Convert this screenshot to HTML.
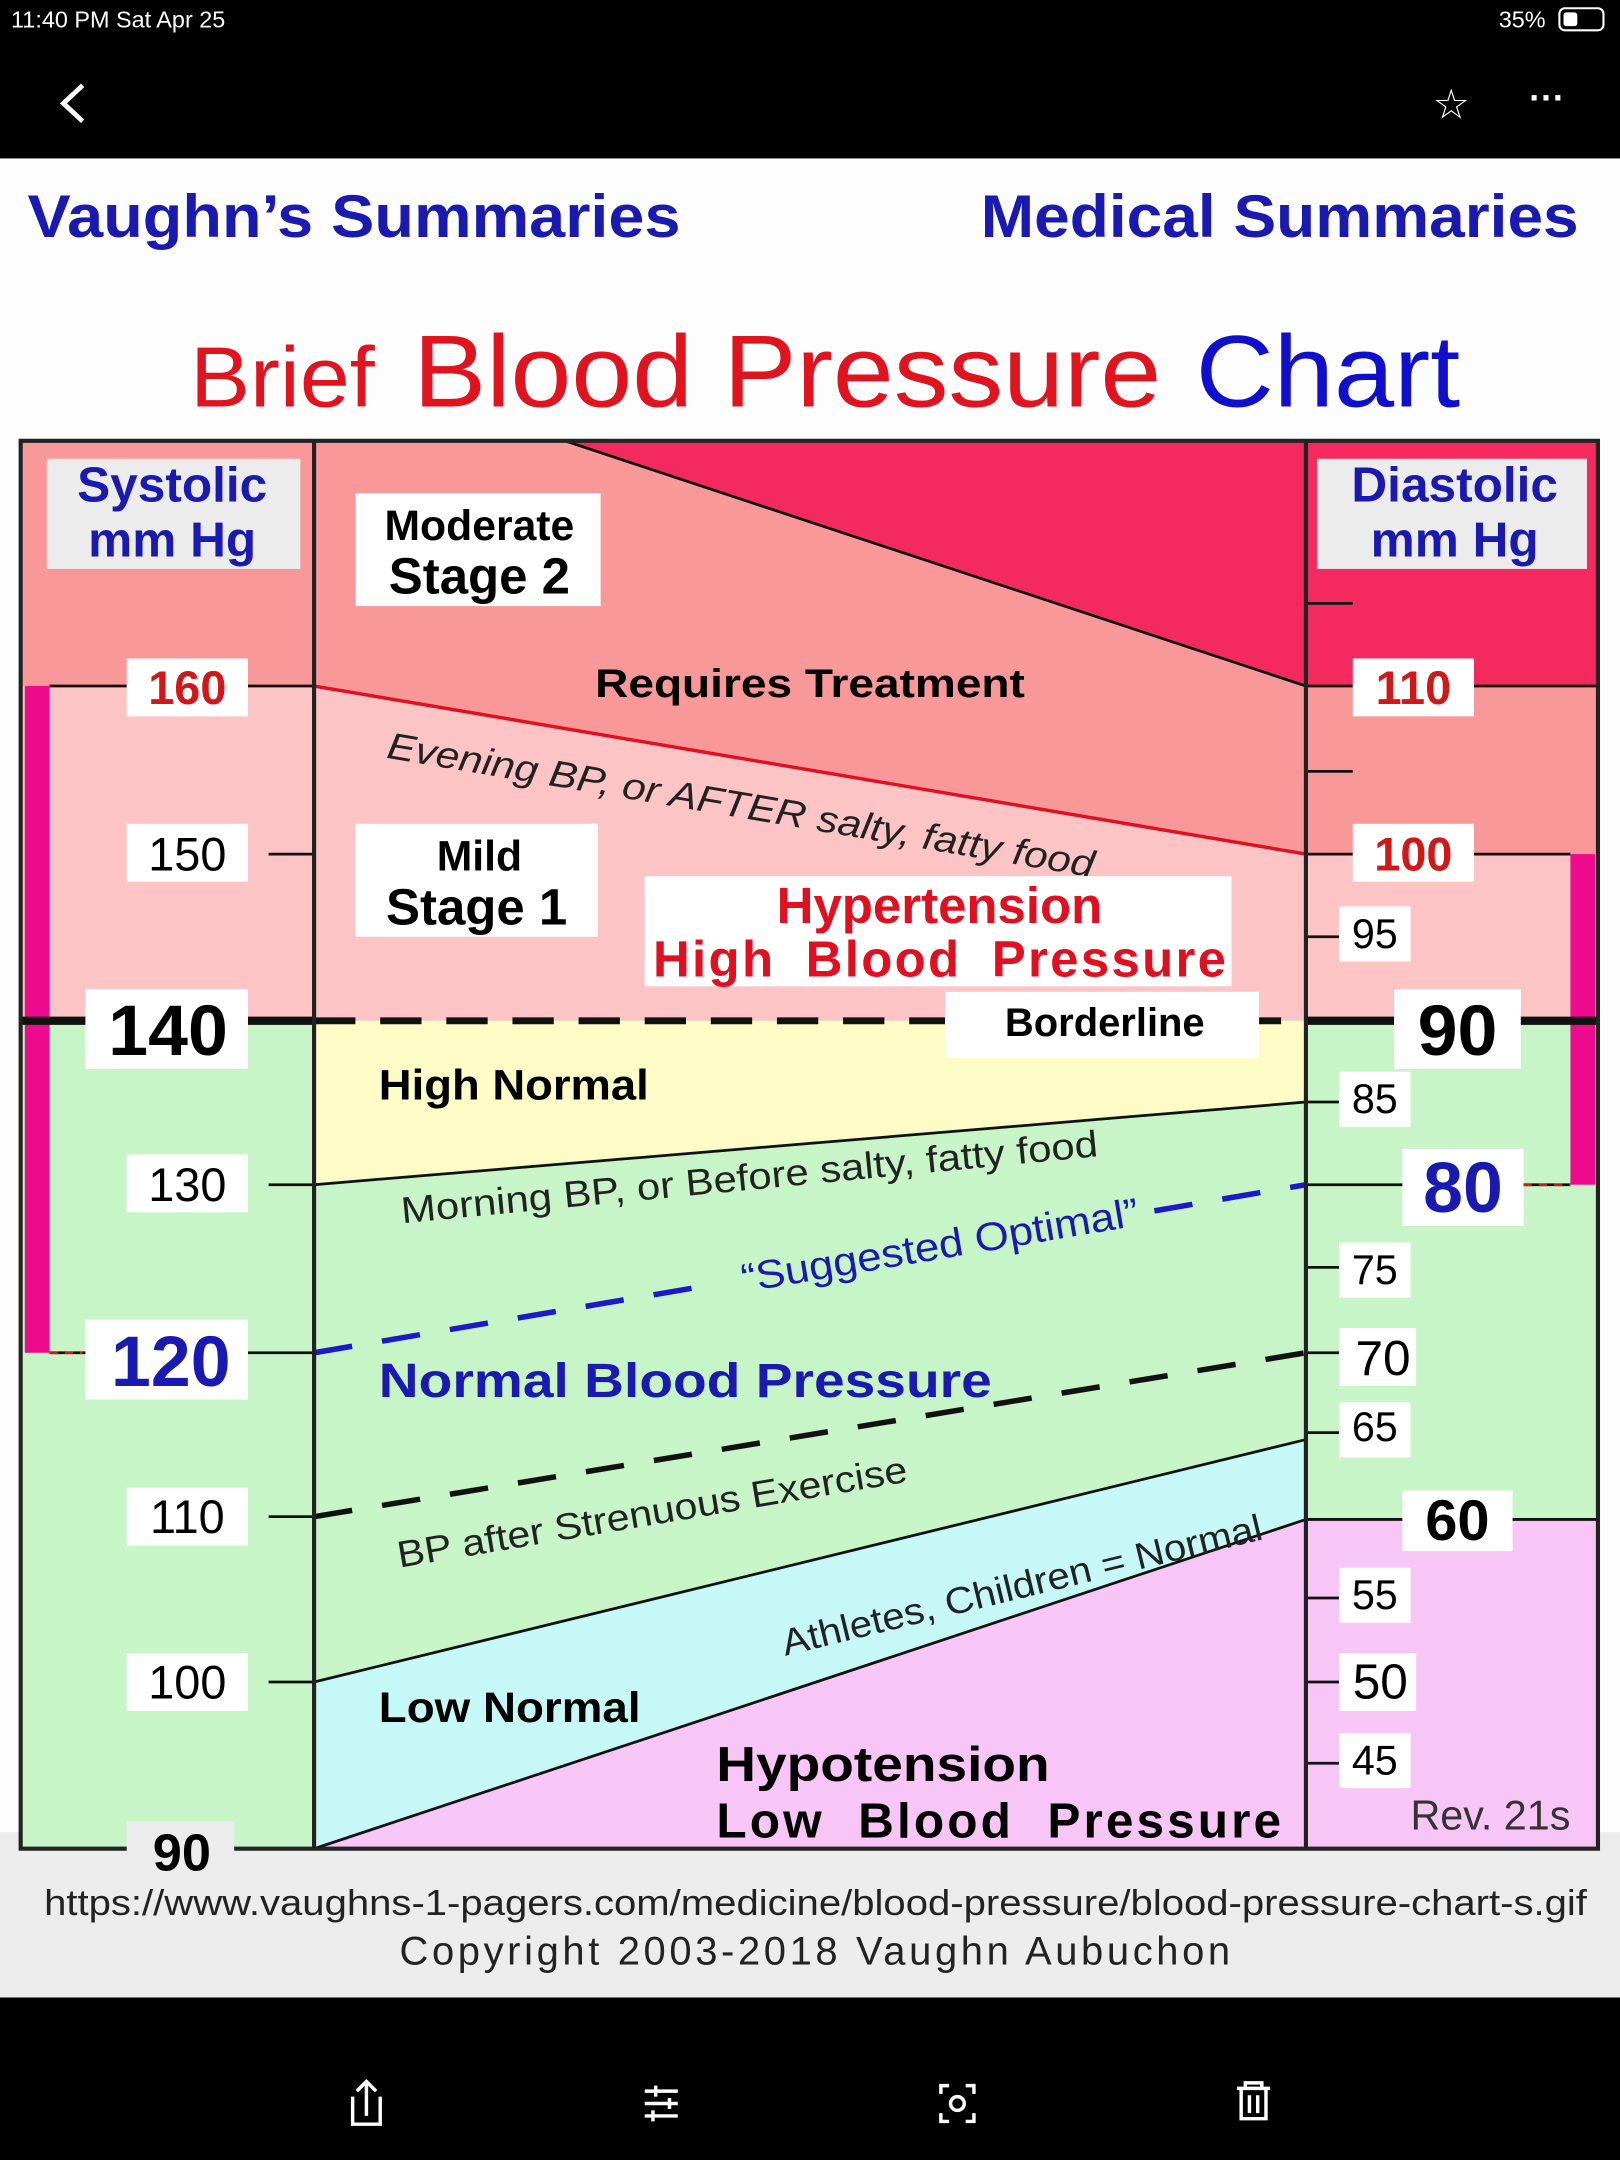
<!DOCTYPE html>
<html><head><meta charset="utf-8"><style>html,body{margin:0;padding:0;background:#000;}svg{display:block}</style></head>
<body>
<svg width="1620" height="2160" viewBox="0 0 1176 1568" xmlns="http://www.w3.org/2000/svg" font-family="Liberation Sans, Arial, sans-serif">
<rect x="0" y="0" width="1176" height="1568" fill="#000"/>
<text x="8" y="20" fill="#fff" font-size="17">11:40 PM   Sat Apr 25</text>
<text x="1088" y="20" fill="#fff" font-size="17">35%</text>
<rect x="1132" y="6" width="32" height="16" rx="4" fill="none" stroke="#fff" stroke-width="1.5"/>
<rect x="1135" y="9" width="10" height="10" rx="2" fill="#fff"/>
<path d="M60 62 L46 75 L60 88" stroke="#fff" stroke-width="3.5" fill="none"/>
<text x="1040" y="86" fill="#fff" font-size="30">☆</text>
<text x="1110" y="80" fill="#fff" font-size="26" font-weight="bold">···</text>
<rect x="0" y="115" width="1176" height="1335" fill="#fdfdfd"/>
<rect x="0" y="1330" width="1176" height="120" fill="#ececec"/>
<text x="20" y="172" fill="#1a1ab0" font-size="44" font-weight="bold" textLength="474" lengthAdjust="spacingAndGlyphs">Vaughn’s Summaries</text>
<text x="712" y="172" fill="#1a1ab0" font-size="44" font-weight="bold" textLength="434" lengthAdjust="spacingAndGlyphs">Medical Summaries</text>
<text x="138" y="295" font-size="62" fill="#e0141e" textLength="134" lengthAdjust="spacingAndGlyphs">Brief</text>
<text x="300" y="295" font-size="74" fill="#e0141e" textLength="543" lengthAdjust="spacingAndGlyphs">Blood Pressure</text>
<text x="868" y="295" font-size="74" fill="#1010cc" textLength="192" lengthAdjust="spacingAndGlyphs">Chart</text>
<!-- middle regions -->
<rect x="228" y="320" width="720" height="1022" fill="#c8f5c8"/>
<polygon points="228,320 948,320 948,620 228,498" fill="#f89898"/>
<polygon points="410,320 948,320 948,498" fill="#f42a5e"/>
<polygon points="228,498 948,620 948,741 228,741" fill="#fcc4c4"/>
<polygon points="228,741 948,741 948,800 228,860" fill="#fdfbc6"/>
<polygon points="228,1221 948,1045 948,1103 228,1342" fill="#c6f8f8"/>
<polygon points="228,1342 948,1103 948,1342" fill="#f8c6f6"/>
<line x1="410" y1="320" x2="948" y2="498" stroke="#111" stroke-width="2"/>
<line x1="228" y1="498" x2="948" y2="620" stroke="#e01020" stroke-width="2.5"/>
<line x1="228" y1="860" x2="948" y2="800" stroke="#111" stroke-width="2"/>
<line x1="228" y1="1221" x2="948" y2="1045" stroke="#111" stroke-width="2"/>
<line x1="228" y1="1342" x2="948" y2="1103" stroke="#111" stroke-width="2"/>
<!-- left column -->
<rect x="15" y="320" width="213" height="178" fill="#f89898"/>
<rect x="15" y="498" width="213" height="243" fill="#fcc4c4"/>
<rect x="15" y="741" width="213" height="601" fill="#c8f5c8"/>
<!-- right column -->
<rect x="948" y="320" width="212" height="178" fill="#f42a5e"/>
<rect x="948" y="498" width="212" height="122" fill="#f89898"/>
<rect x="948" y="620" width="212" height="121" fill="#fcc4c4"/>
<rect x="948" y="741" width="212" height="362" fill="#c8f5c8"/>
<rect x="948" y="1103" width="212" height="239" fill="#f8c6f6"/>
<rect x="18" y="498" width="18" height="484" fill="#ee0a8c"/>
<rect x="1140" y="620" width="18" height="240" fill="#ee0a8c"/>
<!-- dashed lines -->
<line x1="228" y1="741" x2="948" y2="741" stroke="#111" stroke-width="5" stroke-dasharray="30,18"/>
<line x1="15" y1="741" x2="228" y2="741" stroke="#111" stroke-width="6"/>
<line x1="948" y1="741" x2="1160" y2="741" stroke="#111" stroke-width="6"/>
<line x1="228" y1="982" x2="515" y2="933" stroke="#1a1acc" stroke-width="4" stroke-dasharray="28,22"/>
<line x1="838" y1="879" x2="948" y2="860" stroke="#1a1acc" stroke-width="4" stroke-dasharray="28,22"/>
<line x1="228" y1="1101" x2="948" y2="982" stroke="#111" stroke-width="4" stroke-dasharray="28,22"/>
<g stroke="#111" stroke-width="2">
<line x1="36" y1="498" x2="228" y2="498"/><line x1="195" y1="620" x2="228" y2="620"/>
<line x1="195" y1="860" x2="228" y2="860"/><line x1="36" y1="982" x2="228" y2="982"/>
<line x1="195" y1="1101" x2="228" y2="1101"/><line x1="195" y1="1221" x2="228" y2="1221"/>
<line x1="948" y1="438" x2="982" y2="438"/><line x1="948" y1="498" x2="1160" y2="498"/>
<line x1="948" y1="560" x2="982" y2="560"/><line x1="948" y1="620" x2="1140" y2="620"/>
<line x1="948" y1="680" x2="972" y2="680"/><line x1="948" y1="800" x2="972" y2="800"/>
<line x1="948" y1="860" x2="1140" y2="860"/><line x1="948" y1="920" x2="972" y2="920"/>
<line x1="948" y1="982" x2="972" y2="982"/><line x1="948" y1="1040" x2="972" y2="1040"/>
<line x1="948" y1="1103" x2="1160" y2="1103"/><line x1="948" y1="1160" x2="972" y2="1160"/>
<line x1="948" y1="1221" x2="972" y2="1221"/><line x1="948" y1="1280" x2="972" y2="1280"/>
</g>
<rect x="15" y="320" width="1145" height="1022" fill="none" stroke="#222" stroke-width="3"/>
<line x1="228" y1="320" x2="228" y2="1342" stroke="#222" stroke-width="3"/>
<line x1="948" y1="320" x2="948" y2="1342" stroke="#222" stroke-width="3"/>
<rect x="34" y="333" width="184" height="80" fill="#ececec"/>
<text x="125" y="364" font-size="36" font-weight="bold" fill="#1a1ab0" text-anchor="middle">Systolic</text>
<text x="125" y="404" font-size="36" font-weight="bold" fill="#1a1ab0" text-anchor="middle">mm Hg</text>
<rect x="956" y="333" width="196" height="80" fill="#ececec"/>
<text x="1056" y="364" font-size="36" font-weight="bold" fill="#1a1ab0" text-anchor="middle">Diastolic</text>
<text x="1056" y="404" font-size="36" font-weight="bold" fill="#1a1ab0" text-anchor="middle">mm Hg</text>
<g font-size="34" text-anchor="middle">
<rect x="92" y="478" width="88" height="42" fill="#fff"/><text x="136" y="511" fill="#d01818" font-weight="bold">160</text>
<rect x="92" y="598" width="88" height="42" fill="#fff"/><text x="136" y="632">150</text>
<rect x="62" y="718" width="118" height="58" fill="#fff"/><text x="122" y="766" font-size="52" font-weight="bold">140</text>
<rect x="92" y="838" width="88" height="42" fill="#fff"/><text x="136" y="872">130</text>
<rect x="62" y="958" width="118" height="58" fill="#fff"/><text x="124" y="1006" font-size="52" font-weight="bold" fill="#1a1ab0">120</text>
<rect x="92" y="1080" width="88" height="42" fill="#fff"/><text x="136" y="1113">110</text>
<rect x="92" y="1200" width="88" height="42" fill="#fff"/><text x="136" y="1233">100</text>
<rect x="92" y="1322" width="78" height="28" fill="#ececec"/><text x="132" y="1358" font-size="38" font-weight="bold">90</text>
<rect x="982" y="478" width="88" height="42" fill="#fff"/><text x="1026" y="511" fill="#d01818" font-weight="bold">110</text>
<rect x="982" y="598" width="88" height="42" fill="#fff"/><text x="1026" y="632" fill="#d01818" font-weight="bold">100</text>
<rect x="972" y="658" width="52" height="40" fill="#fff"/><text x="998" y="688" font-size="30">95</text>
<rect x="1012" y="718" width="92" height="58" fill="#fff"/><text x="1058" y="766" font-size="52" font-weight="bold">90</text>
<rect x="972" y="778" width="52" height="40" fill="#fff"/><text x="998" y="808" font-size="30">85</text>
<rect x="1018" y="834" width="88" height="56" fill="#fff"/><text x="1062" y="880" font-size="52" font-weight="bold" fill="#1a1ab0">80</text>
<rect x="972" y="902" width="52" height="40" fill="#fff"/><text x="998" y="932" font-size="30">75</text>
<rect x="972" y="964" width="56" height="42" fill="#fff"/><text x="1004" y="998" font-size="36">70</text>
<rect x="972" y="1018" width="52" height="40" fill="#fff"/><text x="998" y="1046" font-size="30">65</text>
<rect x="1018" y="1082" width="80" height="44" fill="#fff"/><text x="1058" y="1118" font-size="42" font-weight="bold">60</text>
<rect x="972" y="1138" width="52" height="40" fill="#fff"/><text x="998" y="1168" font-size="30">55</text>
<rect x="972" y="1200" width="56" height="42" fill="#fff"/><text x="1002" y="1233" font-size="36">50</text>
<rect x="972" y="1258" width="52" height="40" fill="#fff"/><text x="998" y="1288" font-size="30">45</text>
</g>
<line x1="36" y1="982" x2="60" y2="982" stroke="#d01818" stroke-width="2" stroke-dasharray="6,5"/>
<line x1="1106" y1="860" x2="1140" y2="860" stroke="#d01818" stroke-width="2" stroke-dasharray="6,5"/>
<text x="1140" y="1328" font-size="30" text-anchor="end" fill="#333">Rev. 21s</text>
<rect x="258" y="358" width="178" height="82" fill="#fff"/>
<text x="348" y="392" font-size="31" font-weight="bold" text-anchor="middle">Moderate</text>
<text x="348" y="431" font-size="37" font-weight="bold" text-anchor="middle">Stage 2</text>
<text x="432" y="506" font-size="29" font-weight="bold" textLength="312" lengthAdjust="spacingAndGlyphs">Requires Treatment</text>
<text transform="translate(280,550) rotate(9.6)" font-size="27" font-style="italic" fill="#222" textLength="520" lengthAdjust="spacingAndGlyphs">Evening BP, or AFTER salty, fatty food</text>
<rect x="258" y="598" width="176" height="82" fill="#fff"/>
<text x="348" y="632" font-size="31" font-weight="bold" text-anchor="middle">Mild</text>
<text x="346" y="671" font-size="37" font-weight="bold" text-anchor="middle">Stage 1</text>
<rect x="468" y="636" width="426" height="80" fill="#fff"/>
<text x="682" y="670" font-size="37" font-weight="bold" fill="#e01020" text-anchor="middle">Hypertension</text>
<text x="474" y="709" font-size="37" font-weight="bold" fill="#e01020" textLength="416" lengthAdjust="spacing" word-spacing="10">High Blood Pressure</text>
<rect x="686" y="720" width="228" height="48" fill="#fff"/>
<text x="802" y="752" font-size="29" font-weight="bold" text-anchor="middle">Borderline</text>
<text x="275" y="798" font-size="31" font-weight="bold" textLength="196" lengthAdjust="spacingAndGlyphs">High Normal</text>
<text transform="translate(292,888) rotate(-5.5)" font-size="27" fill="#222" textLength="508" lengthAdjust="spacingAndGlyphs">Morning BP, or Before salty, fatty food</text>
<text transform="translate(540,938) rotate(-9.6)" font-size="29" fill="#1a1ab0" textLength="292" lengthAdjust="spacingAndGlyphs">“Suggested Optimal”</text>
<text x="275" y="1014" font-size="35" font-weight="bold" fill="#1a1ab0" textLength="445" lengthAdjust="spacingAndGlyphs">Normal Blood Pressure</text>
<text transform="translate(290,1138) rotate(-9.6)" font-size="27" fill="#222" textLength="375" lengthAdjust="spacingAndGlyphs">BP after Strenuous Exercise</text>
<text transform="translate(570,1202) rotate(-13.7)" font-size="27" fill="#222" textLength="358" lengthAdjust="spacingAndGlyphs">Athletes, Children = Normal</text>
<text x="275" y="1250" font-size="31" font-weight="bold" textLength="190" lengthAdjust="spacingAndGlyphs">Low Normal</text>
<text x="520" y="1293" font-size="36" font-weight="bold" textLength="242" lengthAdjust="spacingAndGlyphs">Hypotension</text>
<text x="520" y="1334" font-size="36" font-weight="bold" word-spacing="12" textLength="410" lengthAdjust="spacing">Low Blood Pressure</text>
<text x="592" y="1390" font-size="26" text-anchor="middle" fill="#222" textLength="1120" lengthAdjust="spacingAndGlyphs">https://www.vaughns-1-pagers.com/medicine/blood-pressure/blood-pressure-chart-s.gif</text>
<text x="290" y="1426" font-size="29" fill="#222" textLength="603" lengthAdjust="spacing">Copyright 2003-2018  Vaughn Aubuchon</text>
<g stroke="#fff" stroke-width="2.5" fill="none">
<path d="M256 1522 v20 h20 v-20 M266 1536 v-24 M259 1518 l7 -7 l7 7"/>
<path d="M468 1518 h24 M468 1527 h24 M468 1536 h24 M476 1514 v8 M486 1523 v8 M474 1532 v8"/>
<path d="M683 1520 v-6 h6 M707 1520 v-6 h-6 M683 1534 v6 h6 M707 1534 v6 h-6"/><circle cx="695" cy="1527" r="5"/>
<path d="M898 1516 h24 M904 1516 v-4 h12 v4 M901 1516 v22 h18 v-22 M907 1521 v13 M913 1521 v13"/>
</g>
</svg>
</body></html>
